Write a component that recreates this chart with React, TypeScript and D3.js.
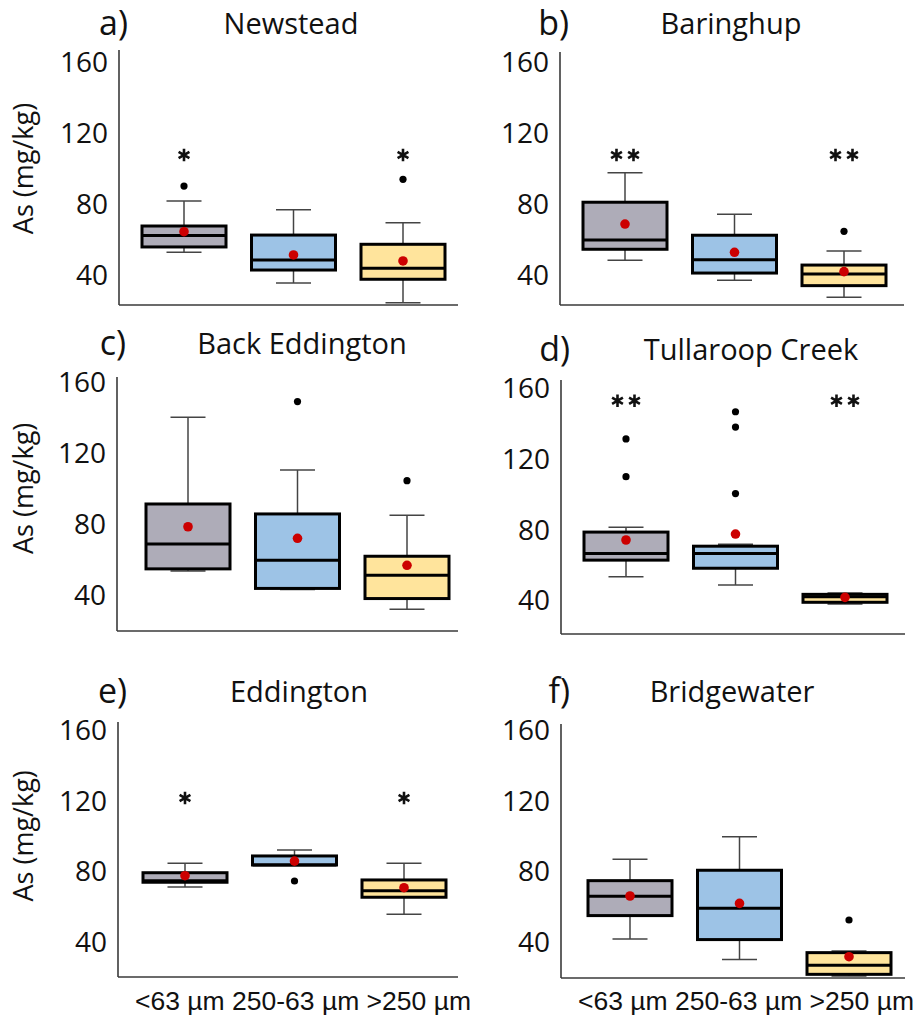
import * as d3 from 'd3'

const W = 919
const H = 1018

const LETTERS = ['a)', 'b)', 'c)', 'd)', 'e)', 'f)']
const SITES = ['Newstead', 'Baringhup', 'Back Eddington', 'Tullaroop Creek', 'Eddington', 'Bridgewater']
const CATEGORIES = ['<63 µm', '250-63 µm', '>250 µm']
const Y_TICKS = [40, 80, 120, 160]

// one row per site, one value per size fraction
const WHISKER_LOW = [
  [52.8, 35.5, 24.4],
  [48.3, 37, 27.4],
  [53.5, 43.1, 32],
  [53.2, 48.5, 37.7],
  [71, 83.5, 55.5],
  [41.6, 29.9, 20.5],
]
const Q1 = [
  [55.8, 42.8, 37.6],
  [54.5, 41.1, 34],
  [54.7, 43.7, 38],
  [62.6, 58, 38.7],
  [73.7, 83.5, 65.2],
  [54.8, 41.2, 21.5],
]
const MEDIAN = [
  [62.2, 48.5, 43.8],
  [59.7, 48.6, 40.6],
  [68.7, 59.5, 51.1],
  [66.4, 66.4, 41.9],
  [74.6, 83.5, 68.9],
  [65.7, 58.9, 26.6],
]
const Q3 = [
  [67.6, 62.5, 57.3],
  [81, 62.4, 45.6],
  [91.2, 85.6, 61.8],
  [78.5, 70.5, 43.2],
  [79.1, 88.6, 75],
  [74.6, 80.5, 33.8],
]
const WHISKER_HIGH = [
  [81.7, 76.8, 69.5],
  [97.6, 74.2, 53.5],
  [140, 110.3, 84.9],
  [81.2, 71.6, 43.9],
  [84.4, 92, 84.4],
  [86.7, 99.5, 34.7],
]
const MEAN = [
  [64.4, 51.3, 47.9],
  [68.7, 52.8, 41.9],
  [78.4, 71.9, 56.7],
  [74, 77.4, 41.5],
  [77.4, 85.7, 70.6],
  [65.9, 61.7, 31.5],
]
const OUTLIERS = [
  [[90.1], [], [93.9]],
  [[], [], [64.6]],
  [[], [148.8], [104.3]],
  [[131.3, 109.9], [146.7, 138, 100.3], []],
  [[], [74.4], []],
  [[], [], [52.3]],
]
const STARS = [
  [1, 0, 1],
  [2, 0, 2],
  [0, 0, 0],
  [2, 0, 2],
  [1, 0, 1],
  [0, 0, 0],
]
const STAR_LEVEL = [107.6, 107.6, 0, 153, 121.5, 0]

// panel placement (pixels)
const LAYOUT = [
  { axisX: 119, y160: 62, y40: 275, top: 50, bottom: 305, right: 458, off: 65, titleDx: 172 },
  { axisX: 560, y160: 62, y40: 275, top: 52, bottom: 305, right: 904, off: 65, titleDx: 171 },
  { axisX: 117, y160: 381.7, y40: 595, top: 377, bottom: 631, right: 458, off: 71, titleDx: 185 },
  { axisX: 561, y160: 388.3, y40: 600, top: 380, bottom: 634, right: 905, off: 65, titleDx: 190 },
  { axisX: 118, y160: 730, y40: 941.7, top: 722, bottom: 977, right: 458, off: 67, titleDx: 181 },
  { axisX: 561, y160: 730, y40: 941.7, top: 724, bottom: 978, right: 905, off: 69, titleDx: 171 },
]

const FILLS = ['#aeacb8', '#9dc3e6', '#ffe49c']
const FONT = "'Open Sans', sans-serif"
const BOX_W = 84
const CAP_W = 35
const AXIS_COLOR = '#3a3a3a'

const star = d3.symbol().type(d3.symbolAsterisk).size(110)

function Panel({ i }: { i: number }) {
  const L = LAYOUT[i]
  const y = d3.scaleLinear().domain([40, 160]).range([L.y40, L.y160])
  const x = d3.scalePoint().domain(CATEGORIES).range([L.axisX + L.off, L.axisX + L.off + 219])
  const showYLabel = i % 2 === 0
  const showXLabels = i >= 4

  return (
    <g>
      <text x={L.axisX + 9} y={L.y160 - 27} textAnchor="end" fontFamily={FONT} fontSize={34} fill="#111">
        {LETTERS[i]}
      </text>
      <text x={L.axisX + L.titleDx} y={L.y160 - 28} textAnchor="middle" fontFamily={FONT} fontSize={29} fill="#111">
        {SITES[i]}
      </text>

      {Y_TICKS.map((t) => (
        <text key={t} x={L.axisX - 11} y={y(t)} dy="0.36em" textAnchor="end" fontFamily={FONT} fontSize={28} fill="#111">
          {t}
        </text>
      ))}

      {showYLabel && (
        <text
          transform={`translate(${24},${(L.y160 + L.y40) / 2}) rotate(-90)`}
          dy="0.35em"
          textAnchor="middle"
          fontFamily={FONT}
          fontSize={27}
          fill="#111"
        >
          As (mg/kg)
        </text>
      )}

      <line x1={L.axisX} x2={L.axisX} y1={L.top} y2={L.bottom} stroke={AXIS_COLOR} strokeWidth={1.6} />
      <line x1={L.axisX} x2={L.right} y1={L.bottom} y2={L.bottom} stroke={AXIS_COLOR} strokeWidth={1.6} />

      {CATEGORIES.map((c, j) => {
        const cx = x(c)!
        return (
          <g key={c}>
            <line x1={cx} x2={cx} y1={y(Q3[i][j])} y2={y(WHISKER_HIGH[i][j])} stroke="#444" strokeWidth={1.5} />
            <line x1={cx} x2={cx} y1={y(Q1[i][j])} y2={y(WHISKER_LOW[i][j])} stroke="#444" strokeWidth={1.5} />
            <line x1={cx - CAP_W / 2} x2={cx + CAP_W / 2} y1={y(WHISKER_HIGH[i][j])} y2={y(WHISKER_HIGH[i][j])} stroke="#444" strokeWidth={1.5} />
            <line x1={cx - CAP_W / 2} x2={cx + CAP_W / 2} y1={y(WHISKER_LOW[i][j])} y2={y(WHISKER_LOW[i][j])} stroke="#444" strokeWidth={1.5} />
            <rect
              x={cx - BOX_W / 2}
              y={y(Q3[i][j])}
              width={BOX_W}
              height={Math.max(1, y(Q1[i][j]) - y(Q3[i][j]))}
              fill={FILLS[j]}
              stroke="#000"
              strokeWidth={3}
            />
            <line x1={cx - BOX_W / 2} x2={cx + BOX_W / 2} y1={y(MEDIAN[i][j])} y2={y(MEDIAN[i][j])} stroke="#000" strokeWidth={3} />
            {OUTLIERS[i][j].map((o, k) => (
              <circle key={k} cx={cx} cy={y(o)} r={3.6} fill="#000" />
            ))}
            <circle cx={cx} cy={y(MEAN[i][j])} r={4.8} fill="#cc0000" />
            {d3.range(STARS[i][j]).map((k) => {
              const n = STARS[i][j]
              const sx = cx + (k - (n - 1) / 2) * 17
              return (
                <path
                  key={k}
                  d={star()!}
                  transform={`translate(${sx},${y(STAR_LEVEL[i])})`}
                  fill="none"
                  stroke="#111"
                  strokeWidth={2.6}
                />
              )
            })}
          </g>
        )
      })}

      {showXLabels && (
        <text
          x={L.axisX + 185}
          y={1010}
          textAnchor="middle"
          fontFamily="'Liberation Sans', Arial, sans-serif"
          fontSize={26.5}
          fill="#111"
        >
          {CATEGORIES.join(' ')}
        </text>
      )}
    </g>
  )
}

export default function App() {
  return (
    <svg width={W} height={H} style={{ position: 'absolute', left: 0, top: 0, background: '#fff' }}>
      <rect width={W} height={H} fill="#fff" />
      {LAYOUT.map((_, i) => (
        <Panel key={i} i={i} />
      ))}
    </svg>
  )
}
